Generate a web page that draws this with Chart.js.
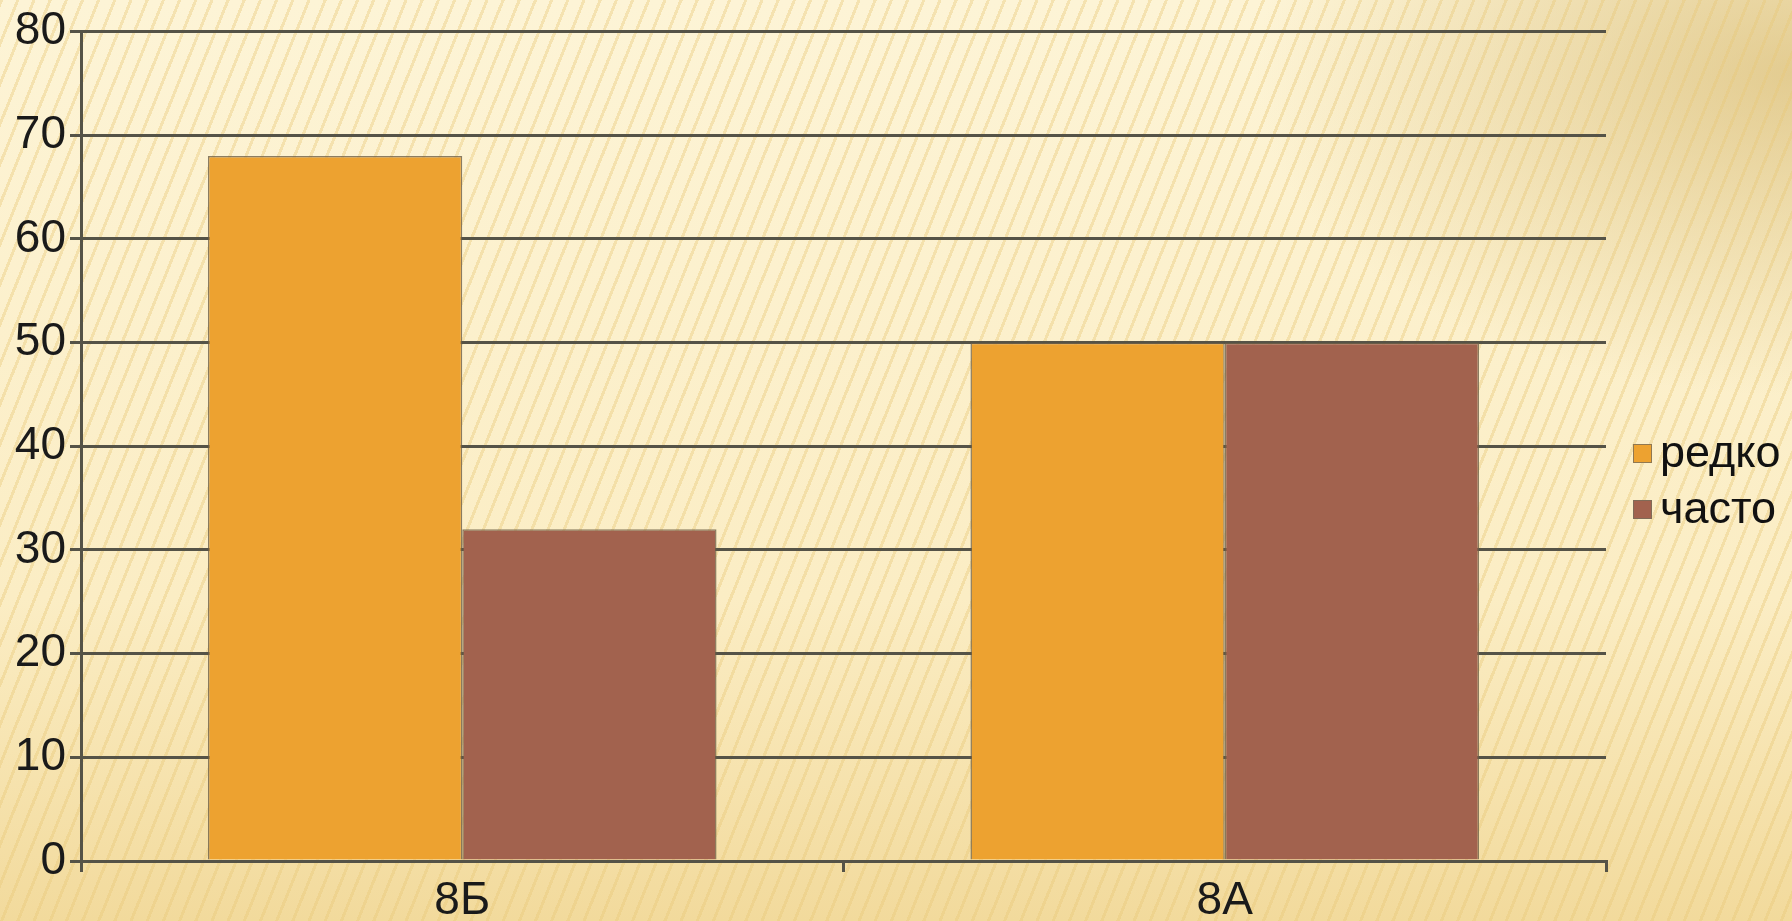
<!DOCTYPE html>
<html>
<head>
<meta charset="utf-8">
<script src="https://cdn.jsdelivr.net/npm/chart.js@4/dist/chart.umd.min.js"></script>
<style>
html, body { margin:0; padding:0; width:1792px; height:921px; overflow:hidden; }
body {
    background:
        repeating-linear-gradient(112deg, rgba(232,200,120,0.4) 0 3px, rgba(0,0,0,0) 3px 15px),
        radial-gradient(ellipse 30% 35% at 100% 8%, rgba(210,178,100,0.6), rgba(210,178,100,0) 100%),
        linear-gradient(180deg, #fdf4d6 0%, #fbedc4 65%, #f2da9c 100%);
}
#wrap { position:absolute; left:0; top:0; width:1792px; height:921px; }
</style>
</head>
<body>
<div id="wrap"><canvas id="myChart" width="1792" height="921"></canvas></div>
<script>
// datos de la grafica
var categorias = ['8Б', '8А'];
var nombresSeries = ['редко', 'часто'];
var redko = [68, 50];
var chasto = [32, 50];
var ejeMin = 0;
var ejeMax = 80;
var ejePaso = 10;

var colorRedko = '#eda230';
var colorChasto = '#a2624e';
var colorLinea = '#555347';

// leyenda dibujada a mano a la derecha
var leyendaPlugin = {
    id: 'leyendaPlugin',
    afterDraw: function (chart) {
        var ctx = chart.ctx;
        var ds = chart.data.datasets;
        ctx.save();
        ctx.font = '45px "Liberation Sans", Arial, sans-serif';
        ctx.textBaseline = 'middle';
        ctx.textAlign = 'left';
        for (var i = 0; i < ds.length; i++) {
            var y = 453 + i * 56;
            ctx.fillStyle = ds[i].backgroundColor;
            ctx.fillRect(1633, y - 9, 19, 19);
            ctx.strokeStyle = 'rgba(120,110,90,0.8)';
            ctx.lineWidth = 1;
            ctx.strokeRect(1633.5, y - 8.5, 18, 18);
            ctx.fillStyle = '#111';
            ctx.fillText(ds[i].label, 1660, y + 2);
        }
        ctx.restore();
    }
};

var ctx = document.getElementById('myChart').getContext('2d');
var myChart = new Chart(ctx, {
    type: 'bar',
    data: {
        labels: categorias,
        datasets: [{
            label: nombresSeries[0],
            data: redko,
            backgroundColor: colorRedko,
            borderColor: 'rgba(110,95,70,0.8)',
            borderWidth: 1.5
        }, {
            label: nombresSeries[1],
            data: chasto,
            backgroundColor: colorChasto,
            borderColor: 'rgba(110,95,70,0.8)',
            borderWidth: 1.5
        }]
    },
    options: {
        responsive: false,
        animation: false,
        devicePixelRatio: 1,
        layout: {
            padding: { left: 0, right: 186, top: 29, bottom: 0 }
        },
        categoryPercentage: 0.667,
        barPercentage: 1,
        plugins: {
            legend: { display: false },
            tooltip: { enabled: false }
        },
        scales: {
            y: {
                min: ejeMin,
                max: ejeMax,
                ticks: {
                    stepSize: ejePaso,
                    color: '#1a1a1a',
                    padding: 4,
                    font: { family: '"Liberation Sans", Arial, sans-serif', size: 46 }
                },
                grid: {
                    color: colorLinea,
                    lineWidth: 3,
                    tickLength: 11
                },
                border: { display: true, color: colorLinea, width: 3 },
                afterFit: function (scale) { scale.width = 81; }
            },
            x: {
                offset: true,
                ticks: {
                    color: '#1a1a1a',
                    padding: 2,
                    font: { family: '"Liberation Sans", Arial, sans-serif', size: 46 }
                },
                grid: {
                    offset: true,
                    drawOnChartArea: false,
                    color: colorLinea,
                    lineWidth: 3,
                    tickLength: 11
                },
                border: { display: true, color: colorLinea, width: 3 },
                afterFit: function (scale) { scale.height = 60; }
            }
        }
    },
    plugins: [leyendaPlugin]
});
</script>
</body>
</html>
